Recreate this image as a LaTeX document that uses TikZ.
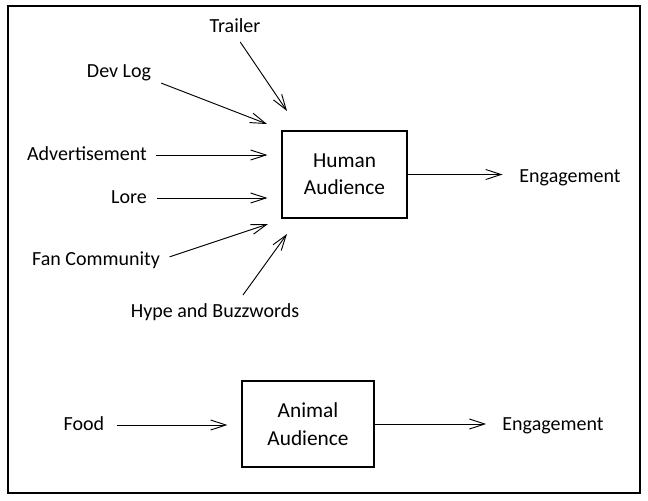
\documentclass[tikz,border=0pt]{standalone}
\usepackage{fontspec}
\setmainfont{Carlito}
\usetikzlibrary{arrows.meta}

\tikzset{
    lbl/.style={inner sep=0pt, text height=0.95em, text depth=0.1em,
        font=\fontsize{15}{18}\selectfont},
    audbox/.style={draw, line width=0.8pt, align=center, inner sep=0pt,
        font=\fontsize{16}{20.5}\selectfont},
    flow/.style={-{Straight Barb[length=11.5pt,width=7.5pt]}, line width=0.7pt},
}

\begin{document}
\begin{tikzpicture}[x=0.75pt, y=-0.75pt]
        \useasboundingbox (0, 0) rectangle (648, 500);
        % frame
        \draw[line width=1.1pt] (8, 6) rectangle (640, 493);

        % human audience
        \node[audbox, minimum width=93.75pt, minimum height=65.25pt] (human) at (344.5, 174.5) {Human\\Audience};
        \node[lbl] (trailer) at (235, 27) {Trailer};
        \node[lbl] (devlog) at (119, 72) {Dev Log};
        \node[lbl] (adv) at (87, 155) {Advertisement};
        \node[lbl] (lore) at (129, 198) {Lore};
        \node[lbl] (fan) at (96, 260) {Fan Community};
        \node[lbl] (hype) at (215, 312) {Hype and Buzzwords};
        \node[lbl] (eng1) at (570, 177) {Engagement};

        \coordinate (trailer-in) at (287, 111);
        \coordinate (devlog-in) at (267, 124);
        \coordinate (fan-in) at (268, 224);
        \coordinate (hype-out) at (243, 295);
        \coordinate (hype-in) at (287, 234);

        \draw[flow, shorten <=7pt] (trailer.south) -- (trailer-in);
        \draw[flow, shorten <=8pt] (devlog.south east) -- (devlog-in);
        \draw[flow, shorten <=6.75pt, shorten >=10.5pt] (adv.east) -- (adv.east -| human.west);
        \draw[flow, shorten <=7.5pt, shorten >=10.5pt] (lore.east) -- (lore.east -| human.west);
        \draw[flow, shorten <=7.5pt] (fan.east) -- (fan-in);
        \draw[flow] (hype-out) -- (hype-in);
        \draw[flow, shorten >=12.5pt] (human.east) -- (human.east -| eng1.west);

        % animal audience
        \node[audbox, minimum width=99pt, minimum height=64.5pt] (animal) at (308, 424) {Animal\\Audience};
        \node[lbl] (food) at (84, 425) {Food};
        \node[lbl] (eng2) at (553, 425) {Engagement};

        \draw[flow, shorten <=9pt, shorten >=10.5pt] (food.east) -- (food.east -| animal.west);
        \draw[flow, shorten >=12pt] (animal.east) -- (animal.east -| eng2.west);
\end{tikzpicture}
\end{document}
